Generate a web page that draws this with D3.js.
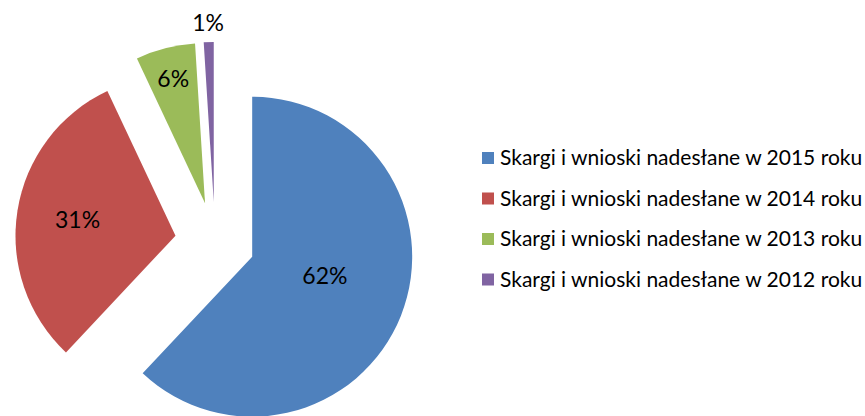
<!DOCTYPE html>
<html>
<head>
<meta charset="utf-8">
<script src="https://d3js.org/d3.v7.min.js"></script>
<style>
    body { margin: 0; background: #ffffff; }
    svg { display: block; }
    text { font-family: Lato, "Open Sans", sans-serif; fill: #000000; }
</style>
</head>
<body>
<div id="main_svg"></div>
<script>
// chart data
var categories = [
    "Skargi i wnioski nadesłane w 2015 roku",
    "Skargi i wnioski nadesłane w 2014 roku",
    "Skargi i wnioski nadesłane w 2013 roku",
    "Skargi i wnioski nadesłane w 2012 roku"
];
var values = [62, 31, 6, 1];
var valueLabels = ["62%", "31%", "6%", "1%"];

var colors = ["#4f81bd", "#c0504d", "#9bbb59", "#8064a2"];

function my_pie() {
    // set the dimensions of the graph
    var width = 865,
        height = 416,
        cx = 215,
        cy = 242,
        radius = 160,
        explode = 40;

    // where the labels sit: share of radius (last one is outside) and a small angle nudge
    var labelPos = [0.47, 0.62, 0.8, 1.12];
    var labelTurn = [-0.12, 0, 0, 0];

    var svg = d3.select("#main_svg").append("svg")
        .attr("width", width)
        .attr("height", height);

    var g = svg.append("g")
        .attr("transform", "translate(" + cx + "," + cy + ")");

    var pie = d3.pie()
        .sort(null)
        .value(function (d) { return d; });

    var arc = d3.arc()
        .innerRadius(0)
        .outerRadius(radius);

    var arcs = pie(values);

    function mid(d) {
        return (d.startAngle + d.endAngle) / 2;
    }

    // exploded slices
    var slice = g.selectAll(".slice")
        .data(arcs)
        .enter().append("g")
        .attr("class", "slice")
        .attr("transform", function (d) {
            var a = mid(d);
            return "translate(" + (Math.sin(a) * explode) + "," + (-Math.cos(a) * explode) + ")";
        });

    slice.append("path")
        .attr("d", arc)
        .attr("fill", function (d, i) { return colors[i]; });

    // percent labels
    slice.append("text")
        .attr("x", function (d, i) { return Math.sin(mid(d) + labelTurn[i]) * radius * labelPos[i]; })
        .attr("y", function (d, i) { return -Math.cos(mid(d) + labelTurn[i]) * radius * labelPos[i]; })
        .attr("text-anchor", "middle")
        .attr("dy", "0.35em")
        .style("font-size", "23px")
        .text(function (d, i) { return valueLabels[i]; });

    // legend
    var legend = svg.selectAll(".legend")
        .data(categories)
        .enter().append("g")
        .attr("class", "legend")
        .attr("transform", function (d, i) {
            return "translate(482," + (158 + i * 40.5) + ")";
        });

    legend.append("rect")
        .attr("x", 0)
        .attr("y", -6)
        .attr("width", 12)
        .attr("height", 12)
        .attr("fill", function (d, i) { return colors[i]; });

    legend.append("text")
        .attr("x", 18)
        .attr("dy", "0.35em")
        .style("font-size", "21px")
        .text(function (d) { return d; });
}

my_pie();
</script>
</body>
</html>
